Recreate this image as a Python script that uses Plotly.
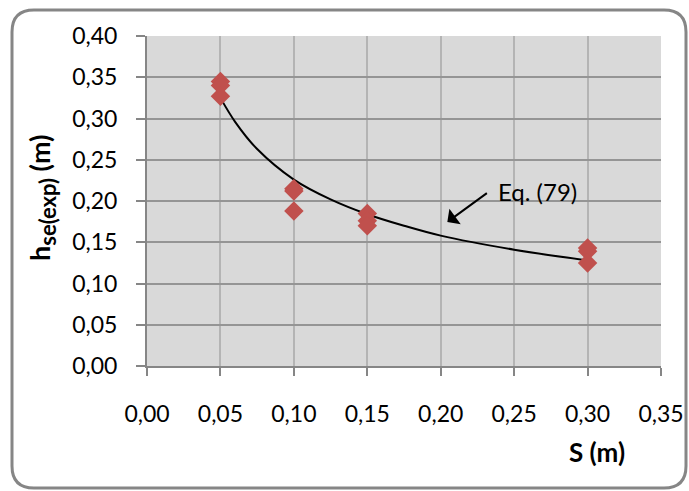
import plotly.graph_objects as go

# Experimental points
s_exp = [0.05, 0.05, 0.05, 0.10, 0.10, 0.10, 0.15, 0.15, 0.15, 0.30, 0.30, 0.30]
h_exp = [0.345, 0.340, 0.327, 0.215, 0.212, 0.188, 0.185, 0.176, 0.170, 0.143, 0.139, 0.125]

# Eq. (79) curve
s_eq = [0.05, 0.06, 0.075, 0.10, 0.125, 0.15, 0.175, 0.20, 0.25, 0.30]
h_eq = [0.325, 0.296, 0.263, 0.226, 0.202, 0.184, 0.170, 0.158, 0.141, 0.128]

x_ticks = [0.00, 0.05, 0.10, 0.15, 0.20, 0.25, 0.30, 0.35]
x_labels = ["0,00", "0,05", "0,10", "0,15", "0,20", "0,25", "0,30", "0,35"]
y_ticks = [0.00, 0.05, 0.10, 0.15, 0.20, 0.25, 0.30, 0.35, 0.40]
y_labels = ["0,00", "0,05", "0,10", "0,15", "0,20", "0,25", "0,30", "0,35", "0,40"]

W, H = 689, 491
L, R, T, B = 147, 28, 36, 125
pw, ph = W - L - R, H - T - B

def px(x):
    return (x - L) / pw

def py(y):
    return (H - B - y) / ph

FONT = "Lato"

fig = go.Figure()
fig.add_trace(go.Scatter(x=s_eq, y=h_eq, mode="lines", line=dict(color="black", width=2, shape="spline"),
                         showlegend=False, hoverinfo="skip"))
fig.add_trace(go.Scatter(x=s_exp, y=h_exp, mode="markers",
                         marker=dict(symbol="diamond", size=15, color="#c0504d"), showlegend=False))

# rounded outer border
x0, x1, y0, y1 = 12, 686, 10, 488
r = 22
path = (f"M {px(x0 + r)},{py(y0)} L {px(x1 - r)},{py(y0)} "
        f"Q {px(x1)},{py(y0)} {px(x1)},{py(y0 + r)} L {px(x1)},{py(y1 - r)} "
        f"Q {px(x1)},{py(y1)} {px(x1 - r)},{py(y1)} L {px(x0 + r)},{py(y1)} "
        f"Q {px(x0)},{py(y1)} {px(x0)},{py(y1 - r)} L {px(x0)},{py(y0 + r)} "
        f"Q {px(x0)},{py(y0)} {px(x0 + r)},{py(y0)} Z")

fig.update_layout(
    width=W, height=H,
    margin=dict(l=L, r=R, t=T, b=B),
    paper_bgcolor="white",
    plot_bgcolor="#d9d9d9",
    font=dict(family=FONT, size=23, color="black"),
    shapes=[dict(type="path", xref="paper", yref="paper", path=path,
                 line=dict(color="#868686", width=3), layer="below")],
    xaxis=dict(range=[0, 0.35], tickvals=x_ticks, ticktext=x_labels, automargin=False,
               showgrid=True, gridcolor="#b4b4b4", gridwidth=2,
               showline=True, linecolor="#868686", linewidth=2,
               ticks="outside", ticklen=8, tickcolor="#868686", tickwidth=2,
               ticklabelstandoff=18, zeroline=False),
    yaxis=dict(range=[0, 0.40], tickvals=y_ticks, ticktext=y_labels, automargin=False,
               showgrid=True, gridcolor="#959595", gridwidth=2,
               showline=True, linecolor="#868686", linewidth=2,
               ticks="outside", ticklen=9, tickcolor="#868686", tickwidth=2,
               ticklabelstandoff=14, zeroline=False),
    annotations=[
        dict(x=0.2045, y=0.1745, ax=0.2345, ay=0.2135, xref="x", yref="y", axref="x", ayref="y",
             text=" ", showarrow=True, arrowhead=1, arrowsize=1.6, arrowwidth=2, arrowcolor="black"),
        dict(x=0.2375, y=0.211, xref="x", yref="y", text="Eq. (79)", showarrow=False,
             xanchor="left", yanchor="middle", font=dict(size=24)),
        dict(x=px(597), y=py(452), xref="paper", yref="paper", text="<b>S (m)</b>", showarrow=False,
             xanchor="center", yanchor="middle", font=dict(size=26)),
        dict(x=px(42), y=py(198), xref="paper", yref="paper",
             text="<b>h<sub><span style='font-size:22px'>se(exp)</span></sub> (m)</b>",
             showarrow=False, textangle=-90,
             xanchor="center", yanchor="middle", font=dict(size=27)),
    ],
)

fig.write_html("out.html")
